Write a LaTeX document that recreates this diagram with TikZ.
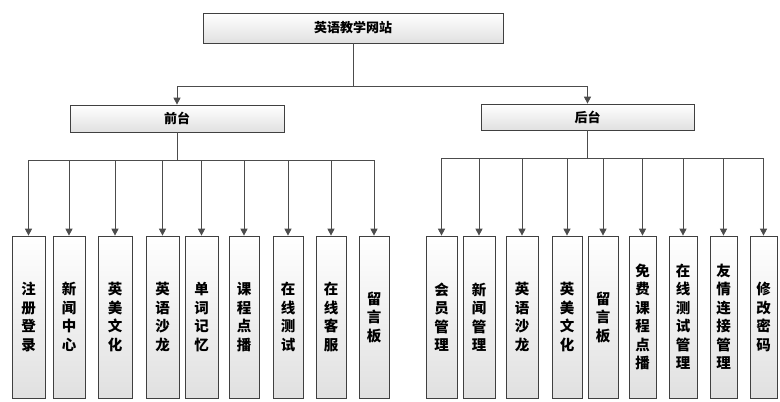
\documentclass[tikz,border=0pt]{standalone}
\usepackage{fontspec}
\newfontfamily\cjk{Noto Sans CJK SC}
\usetikzlibrary{arrows.meta, positioning, shadows}

\begin{document}
\begin{tikzpicture}[x=1pt, y=-1pt,
    box/.style={draw=black!75, line width=0.7pt, top color=white, bottom color=black!12,
        drop shadow={shadow xshift=1.2pt, shadow yshift=-1.2pt, fill=black!35},
        inner sep=0pt, font=\cjk\bfseries\fontsize{13}{15}\selectfont},
    leaf/.style={box, minimum height=162pt, align=center,
        font=\cjk\bfseries\fontsize{14.5}{18.5}\selectfont},
    line/.style={draw=black!70, line width=0.9pt},
    arr/.style={line, -{Triangle[length=7pt, width=7pt]}}]
    \useasboundingbox (0,0) rectangle (780,402);

    \node[box, minimum width=300pt, minimum height=30pt] (site) at (353,28) {英语教学网站};
    \node[box, minimum width=214pt, minimum height=27pt] (front) at (177,118.5) {前台};
    \node[box, minimum width=213pt, minimum height=26pt] (back) at (587.5,117) {后台};

    \coordinate (split) at (353,86);
    \coordinate (fbus) at (0,160);
    \coordinate (bbus) at (0,158);

    \draw[line] (site.south) -- (split);
    \draw[arr] (split) -| (front.north);
    \draw[arr] (split) -| (back.north);

    % front side
    \foreach \x/\w/\t [count=\i] in {28.5/33/{注\\册\\登\\录}, 69/32/{新\\闻\\中\\心},
        115/34/{英\\美\\文\\化}, 162.5/33/{英\\语\\沙\\龙}, 201.5/33/{单\\词\\记\\忆},
        244/30/{课\\程\\点\\播}, 288/30/{在\\线\\测\\试}, 331/30/{在\\线\\客\\服},
        374/30/{留\\言\\板}}
        \node[leaf, minimum width=\w pt] (f\i) at (\x,317) {\t};

    \draw[line] (front.south) -- (front.south |- fbus);
    \draw[line] (f1 |- fbus) -- (f9 |- fbus);
    \foreach \i in {1,...,9}
        \draw[arr] (f\i |- fbus) -- (f\i.north);

    % back side
    \foreach \x/\w/\t [count=\i] in {441.5/31/{会\\员\\管\\理}, 479/32/{新\\闻\\管\\理},
        522/32/{英\\语\\沙\\龙}, 567/30/{英\\美\\文\\化}, 603/30/{留\\言\\板},
        642.5/27/{免\\费\\课\\程\\点\\播}, 683/28/{在\\线\\测\\试\\管\\理},
        723.5/27/{友\\情\\连\\接\\管\\理}, 763.5/27/{修\\改\\密\\码}}
        \node[leaf, minimum width=\w pt] (b\i) at (\x,317) {\t};

    \draw[line] (back.south) -- (back.south |- bbus);
    \draw[line] (b1 |- bbus) -- (b9 |- bbus);
    \foreach \i in {1,...,9}
        \draw[arr] (b\i |- bbus) -- (b\i.north);
\end{tikzpicture}
\end{document}
